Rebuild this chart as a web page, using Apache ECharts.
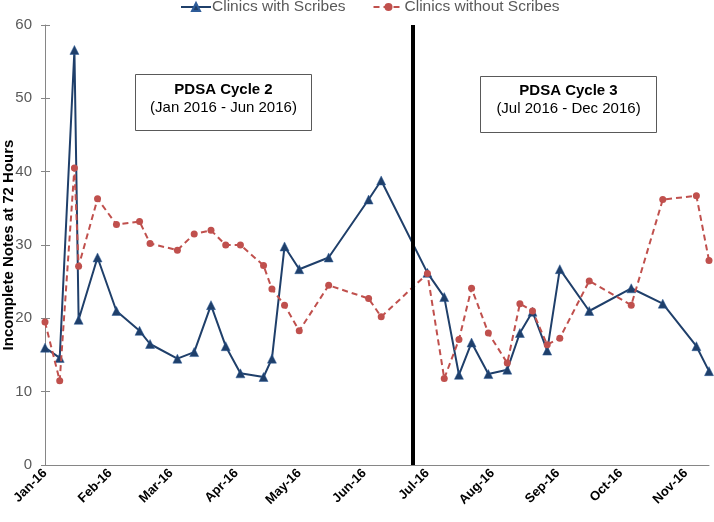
<!DOCTYPE html>
<html>
<head>
<meta charset="utf-8">
<script src="https://cdn.jsdelivr.net/npm/echarts@6/dist/echarts.min.js"></script>
<style>
html,body{margin:0;padding:0;background:#fff;}
#chart{width:714px;height:522px;}
</style>
</head>
<body>
<div id="chart"></div>
<script>
const dates = [
  '2016-01-01','2016-01-08','2016-01-15','2016-01-17','2016-01-26','2016-02-04','2016-02-15','2016-02-20',
  '2016-03-04','2016-03-12','2016-03-20','2016-03-27','2016-04-03','2016-04-14','2016-04-18','2016-04-24',
  '2016-05-01','2016-05-15','2016-06-03','2016-06-09','2016-07-01','2016-07-09','2016-07-16','2016-07-22',
  '2016-07-30','2016-08-08','2016-08-14','2016-08-20','2016-08-27','2016-09-02','2016-09-16','2016-10-06',
  '2016-10-21','2016-11-06','2016-11-12'
];
const withScribes = [
  16.0, 14.6, 56.6, 19.8, 28.3, 21.0, 18.3, 16.5,
  14.5, 15.4, 21.8, 16.2, 12.5, 12.0, 14.5, 29.8,
  26.7, 28.3, 36.2, 38.8, 26.2, 22.9, 12.3, 16.7,
  12.4, 13.0, 18.0, 20.9, 15.6, 26.7, 21.0, 24.1,
  22.0, 16.2, 12.8
];
const withoutScribes = [
  19.5, 11.5, 40.5, 27.1, 36.3, 32.8, 33.2, 30.2,
  29.3, 31.5, 32.0, 30.0, 30.0, 27.2, 24.0, 21.8,
  18.3, 24.5, 22.7, 20.2, 26.1, 11.8, 17.1, 24.1,
  18.0, 13.9, 22.0, 21.0, 16.4, 17.3, 25.1, 21.8,
  36.2, 36.7, 27.9
];
const seriesNames = ['Clinics with Scribes', 'Clinics without Scribes'];
const cycleDivider = '2016-06-24';
const yTicks = [0, 10, 20, 30, 40, 50, 60];
const monthLabels = ['Jan-16','Feb-16','Mar-16','Apr-16','May-16','Jun-16','Jul-16','Aug-16','Sep-16','Oct-16','Nov-16','Dec-16'];

const chart = echarts.init(document.getElementById('chart'));
const blue = '#1F3F6A';
const red = '#C0504D';
const FONT = 'Liberation Sans, Arial';

const yBase = {
  type: 'value',
  min: yTicks[0],
  max: yTicks[yTicks.length - 1],
  interval: 10,
  splitLine: { show: false }
};

chart.setOption({
  animation: false,
  legend: {
    top: -1,
    left: 180,
    padding: 0,
    itemWidth: 30,
    itemHeight: 10,
    itemGap: 27,
    textStyle: { fontFamily: FONT, fontSize: 15.5, color: '#595959', padding: [0, 0, 0, -4] },
    data: seriesNames
  },
  grid: { left: 45, right: 5, top: 25, bottom: 57, containLabel: false, outerBoundsMode: 'none' },
  xAxis: {
    type: 'time',
    min: dates[0],
    max: dates[dates.length - 1],
    minInterval: 28 * 24 * 3600 * 1000,
    maxInterval: 31 * 24 * 3600 * 1000,
    axisLine: { lineStyle: { color: '#868686', width: 1 } },
    axisTick: { show: false },
    splitLine: { show: false },
    axisLabel: {
      rotate: 45,
      fontFamily: FONT,
      fontSize: 13,
      fontWeight: 'bold',
      color: '#000',
      margin: 6,
      showMinLabel: true,
      formatter: function (v) { return monthLabels[new Date(v).getMonth()]; }
    }
  },
  yAxis: [
    Object.assign({}, yBase, {
      name: 'Incomplete Notes at 72 Hours',
      nameLocation: 'middle',
      nameGap: 29,
      nameMoveOverlap: false,
      nameTextStyle: { fontFamily: FONT, fontSize: 15, fontWeight: 'bold', color: '#000' },
      axisLine: { show: true, lineStyle: { color: '#868686', width: 1 } },
      axisTick: { show: true, length: 4, inside: false, lineStyle: { color: '#868686' } },
      axisLabel: { fontFamily: FONT, fontSize: 15, color: '#595959', margin: 13 }
    }),
    Object.assign({}, yBase, {
      position: 'left',
      axisLine: { show: false },
      axisTick: { show: true, length: 5, inside: true, lineStyle: { color: '#868686' } },
      axisLabel: { show: false }
    })
  ],
  series: [
    {
      name: seriesNames[0],
      type: 'line',
      data: dates.map((d, i) => [d, withScribes[i]]),
      symbol: 'triangle',
      symbolSize: 9,
      lineStyle: { color: blue, width: 2 },
      itemStyle: { color: blue, borderColor: '#2E5C99', borderWidth: 0.5 },
      z: 2,
      markLine: {
        silent: true,
        symbol: 'none',
        label: { show: false },
        lineStyle: { color: '#000', width: 4, type: 'solid' },
        data: [{ xAxis: cycleDivider }]
      }
    },
    {
      name: seriesNames[1],
      type: 'line',
      data: dates.map((d, i) => [d, withoutScribes[i]]),
      symbol: 'circle',
      symbolSize: 7,
      lineStyle: { color: red, width: 2, type: [6, 4] },
      itemStyle: { color: red },
      z: 3
    }
  ],
  graphic: [
    {
      type: 'group', left: 135, top: 74,
      children: [
        { type: 'rect', shape: { x: 0, y: 0, width: 176, height: 56 }, style: { fill: '#fff', stroke: '#595959', lineWidth: 1 } },
        { type: 'text', x: 88, y: 15, style: { text: 'PDSA Cycle 2', font: 'bold 15px Liberation Sans, Arial', fill: '#000', textAlign: 'center', textVerticalAlign: 'middle' } },
        { type: 'text', x: 88, y: 33, style: { text: '(Jan 2016 - Jun 2016)', font: '15px Liberation Sans, Arial', fill: '#000', textAlign: 'center', textVerticalAlign: 'middle' } }
      ]
    },
    {
      type: 'group', left: 480, top: 76,
      children: [
        { type: 'rect', shape: { x: 0, y: 0, width: 176, height: 56 }, style: { fill: '#fff', stroke: '#595959', lineWidth: 1 } },
        { type: 'text', x: 88, y: 14, style: { text: 'PDSA Cycle 3', font: 'bold 15px Liberation Sans, Arial', fill: '#000', textAlign: 'center', textVerticalAlign: 'middle' } },
        { type: 'text', x: 88, y: 32, style: { text: '(Jul 2016 - Dec 2016)', font: '15px Liberation Sans, Arial', fill: '#000', textAlign: 'center', textVerticalAlign: 'middle' } }
      ]
    }
  ]
});
</script>
</body>
</html>
